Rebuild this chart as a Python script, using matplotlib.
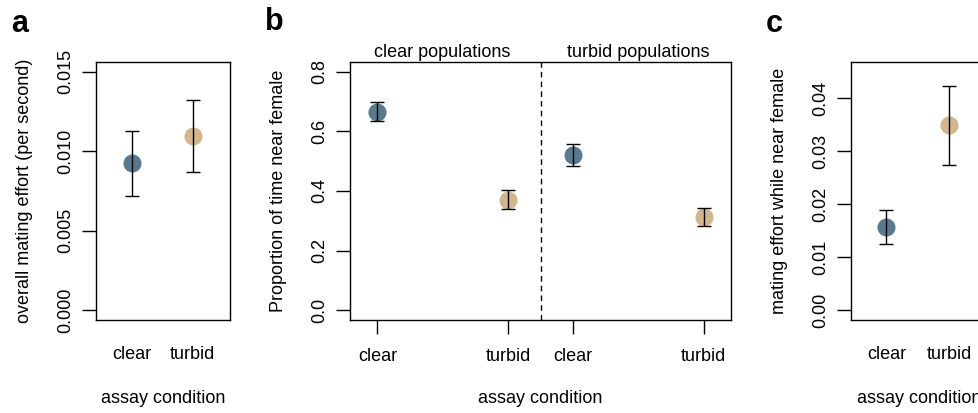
import numpy as np
import matplotlib
matplotlib.use('Agg')
import matplotlib.pyplot as plt

plt.rcParams['font.family'] = ['Liberation Sans', 'DejaVu Sans']

# panel a: overall mating effort
a_labels = ['clear', 'turbid']
a_mean = [0.00923, 0.01094]
a_lo = [0.00720, 0.00867]
a_hi = [0.01125, 0.01320]

# panel b: proportion of time near female
b_labels = ['clear', 'turbid', 'clear', 'turbid']
b_pos = [1, 2, 2.5, 3.5]
b_mean = [0.666, 0.370, 0.521, 0.312]
b_lo = [0.635, 0.339, 0.485, 0.284]
b_hi = [0.699, 0.402, 0.558, 0.343]
b_groups = ['clear populations', 'turbid populations']

# panel c: mating effort while near female
c_labels = ['clear', 'turbid']
c_mean = [0.01568, 0.03493]
c_lo = [0.01260, 0.02746]
c_hi = [0.01888, 0.04230]

blue = '#587a8f'
tan = '#d2b68e'
fs = 13

W, H = 979, 413
fig = plt.figure(figsize=(W / 100, H / 100), dpi=100)


def box(l, r, t, b):
    return fig.add_axes([l / W, 1 - b / H, (r - l) / W, (b - t) / H])


def style(ax):
    for s in ax.spines.values():
        s.set_linewidth(1.0)
    ax.tick_params(axis='y', direction='out', length=10, width=1, labelsize=fs, pad=6)
    for lab in ax.get_yticklabels():
        lab.set_rotation(90)
        lab.set_va('center')


def points(ax, x, mean, lo, hi, colors):
    for xi, m, l, h, c in zip(x, mean, lo, hi, colors):
        ax.plot(xi, m, 'o', color=c, markersize=13, markeredgewidth=0, zorder=2)
        ax.errorbar(xi, m, yerr=[[m - l], [h - m]], fmt='none', ecolor='black',
                    elinewidth=1, capsize=5, capthick=1, zorder=3)


cols2 = [blue, tan]

# a
ax = box(96, 230, 62, 320)
points(ax, [1, 2], a_mean, a_lo, a_hi, cols2)
ax.set_xlim(0.41, 2.61)
ax.set_ylim(-0.0006, 0.0156)
ax.set_yticks([0, 0.005, 0.010, 0.015])
ax.set_yticklabels(['0.000', '0.005', '0.010', '0.015'])
ax.set_xticks([1, 2])
ax.set_xticklabels(a_labels, fontsize=fs)
ax.tick_params(axis='x', length=0, pad=19)
ax.set_xlabel('assay condition', fontsize=fs, labelpad=19)
ax.set_ylabel('overall mating effort (per second)', fontsize=fs, labelpad=17)
style(ax)
fig.text(11 / W, 1 - 24 / H, 'a', fontsize=22, fontweight='bold', va='center')

# b
ax = box(350, 731, 62, 320)
points(ax, b_pos, b_mean, b_lo, b_hi, [blue, tan, blue, tan])
ax.axvline(2.254, color='black', linestyle=(0, (4, 3)), linewidth=1)
ax.set_xlim(0.79, 3.71)
ax.set_ylim(-0.032, 0.832)
ax.set_yticks([0, 0.2, 0.4, 0.6, 0.8])
ax.set_yticklabels(['0.0', '0.2', '0.4', '0.6', '0.8'])
ax.set_xticks(b_pos)
ax.set_xticklabels(b_labels, fontsize=fs)
ax.tick_params(axis='x', direction='out', length=10, width=1, pad=10)
ax.set_xlabel('assay condition', fontsize=fs, labelpad=18)
ax.set_ylabel('Proportion of time near female', fontsize=fs, labelpad=17)
style(ax)
ax.text(1.5, 1.005, b_groups[0], transform=ax.get_xaxis_transform(),
        ha='center', va='bottom', fontsize=fs)
ax.text(3.0, 1.005, b_groups[1], transform=ax.get_xaxis_transform(),
        ha='center', va='bottom', fontsize=fs)
fig.text(265 / W, 1 - 22 / H, 'b', fontsize=22, fontweight='bold', va='center')

# c
ax = box(851, 987, 62, 320)
points(ax, [1, 2], c_mean, c_lo, c_hi, cols2)
ax.set_xlim(0.435, 2.6)
ax.set_ylim(-0.0018, 0.0468)
ax.set_yticks([0, 0.01, 0.02, 0.03, 0.04])
ax.set_yticklabels(['0.00', '0.01', '0.02', '0.03', '0.04'])
ax.set_xticks([1, 2])
ax.set_xticklabels(c_labels, fontsize=fs)
ax.tick_params(axis='x', length=0, pad=19)
ax.set_xlabel('assay condition', fontsize=fs, labelpad=19)
ax.set_ylabel('mating effort while near female', fontsize=fs, labelpad=17)
style(ax)
fig.text(766 / W, 1 - 24 / H, 'c', fontsize=22, fontweight='bold', va='center')

fig.savefig('out.png', dpi=100)
